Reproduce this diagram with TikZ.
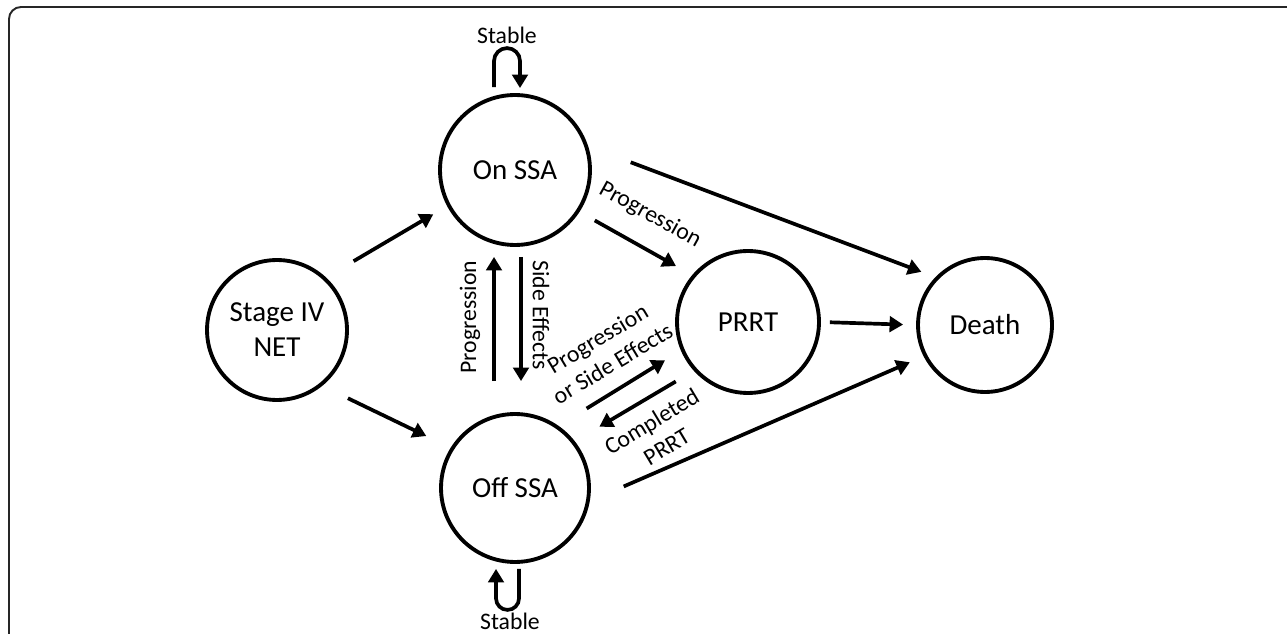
\documentclass[tikz,border=0pt]{standalone}
\usepackage{fontspec}
\setmainfont{Carlito}
\usepackage{tikz}
\usetikzlibrary{arrows.meta}

\begin{document}
\begin{tikzpicture}[->, >={Triangle[length=0.27cm, width=0.31cm]}, x=0.02cm, y=-0.02cm, line width=2.1pt]

\tikzstyle{state}=[circle, draw, line width=2.2pt, align=center, inner sep=0pt, font=\fontsize{16.5}{20}\selectfont]
\tikzstyle{lab}=[align=center, inner sep=0pt, font=\fontsize{13.5}{16.5}\selectfont]

\useasboundingbox (0,0) rectangle (1287,634);
\draw [-, line width=1.1pt, black!85, rounded corners=0.24cm] (9,634) -- (9,7) -- (1287,7);

\node [state, minimum size=2.8cm] (net) at (277,330) {Stage IV\\NET};
\node [state, minimum size=3cm] (onssa) at (515,170) {On SSA};
\node [state, minimum size=2.96cm] (offssa) at (515,488) {Off SSA};
\node [state, minimum size=2.84cm] (prrt) at (748,322) {PRRT};
\node [state, minimum size=2.68cm] (death) at (985,325) {Death};

\path
(net.47) edge [shorten <=0.64cm, shorten >=0.32cm] (onssa.208)
(net.309) edge [shorten <=0.57cm, shorten >=0.54cm] (offssa.148)
(onssa.18) edge [shorten <=0.91cm, shorten >=0.3cm] (death.136)
(onssa.327) edge [shorten <=0.35cm, shorten >=0.37cm] (prrt.140)
(prrt.0) edge [shorten <=0.18cm, shorten >=0.26cm] (death.180)
(offssa.350) edge [shorten <=0.74cm, shorten >=0.3cm] (death.207)
(offssa.55) edge [shorten <=0.66cm, shorten >=0.37cm] (prrt.203)
(prrt.222) edge [shorten <=0.42cm, shorten >=0.57cm] (offssa.38)
([xshift=-0.42cm]offssa.north) edge [shorten <=0.62cm, shorten >=0.2cm] ([xshift=-0.42cm]onssa.south)
([xshift=0.12cm]onssa.south) edge [shorten <=0.2cm, shorten >=0.62cm] ([xshift=0.12cm]offssa.north);

% self loops
\draw ([shift={(-21,-6)}]onssa.north) -- ++(0,-26) arc [start angle=180, end angle=0, radius=0.26cm] -- ++(0,27);
\draw ([shift={(4,5)}]offssa.south) -- ++(0,29.5) arc [start angle=0, end angle=-180, radius=0.23cm] -- ++(0,-29.5);

\node [lab] (stabon) at (507,35) {Stable};
\node [lab] (staboff) at (510,621) {Stable};
\node [lab, rotate=90] (lprogup) at (470,317) {Progression};
\node [lab, rotate=-90] (lside) at (541,315) {Side Effects};
\node [lab, rotate=-29] (lprogrrt) at (650,215) {Progression};
\node [lab, rotate=31] (lprogse) at (605,351) {Progression\\or Side Effects};
\node [lab, rotate=31] (lcompl) at (659,434) {Completed\\PRRT};
\end{tikzpicture}
\end{document}
